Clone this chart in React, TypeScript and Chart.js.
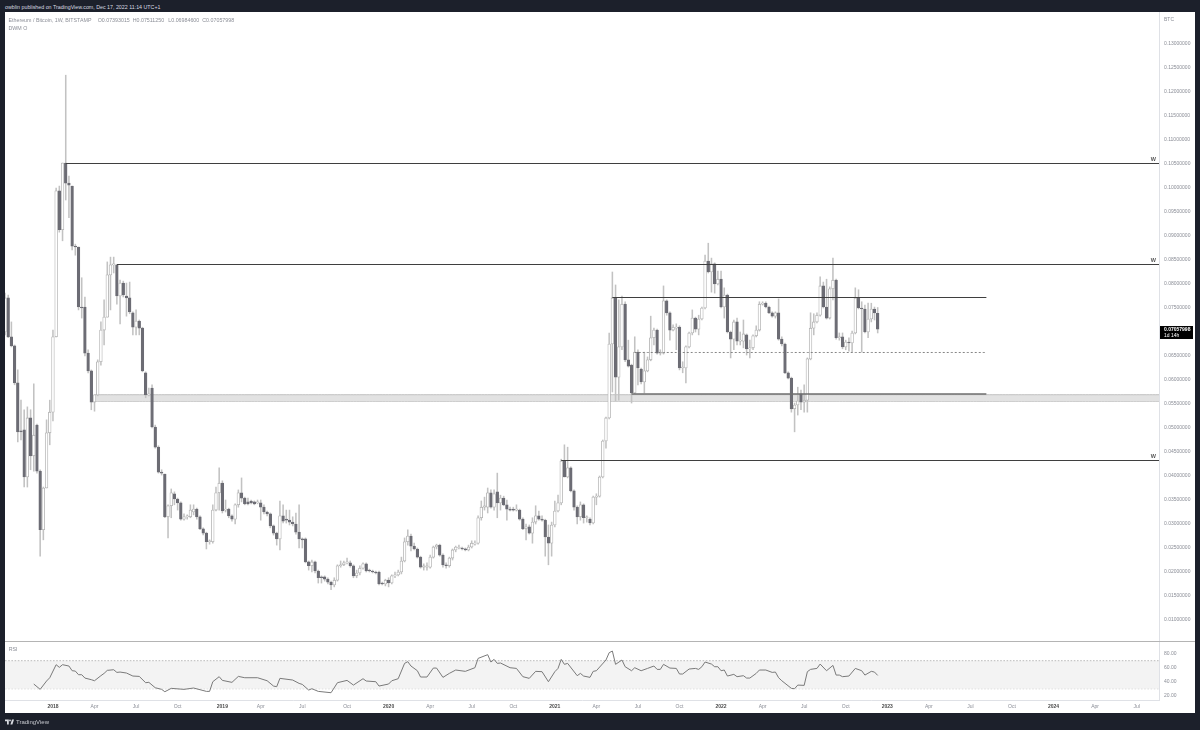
import React, { useEffect, useRef } from "react";
import { Chart, registerables } from "chart.js";

Chart.register(...registerables);

// Weekly ETH/BTC candles, in units of 0.0001 BTC, first week = 18 Sep 2017
const opens = [
  700,771,690,671,594,494,496,398,521,442,
  506,410,288,375,490,533,690,994,913,1052,
  1010,1004,879,877,752,752,656,619,554,569,
  638,704,731,819,840,840,775,802,775,771,
  740,710,723,708,615,569,583,502,460,408,
  404,315,338,363,352,344,310,315,315,325,
  331,315,290,281,263,263,329,365,385,329,
  331,317,310,340,365,354,346,348,346,344,
  344,335,325,321,296,281,269,317,310,308,
  304,300,283,269,269,221,213,221,202,190,
  190,185,179,173,183,213,215,219,219,213,
  192,198,208,217,204,202,200,200,177,175,
  183,177,192,194,200,223,263,275,254,248,
  231,210,210,210,231,252,256,235,215,213,
  229,246,250,250,248,246,252,258,260,313,
  335,335,365,335,367,344,354,340,331,331,
  329,329,310,290,294,281,304,317,310,308,
  273,260,298,327,344,431,398,417,369,335,
  315,340,313,310,302,356,358,398,473,521,
  675,771,606,669,758,642,631,573,658,623,
  596,619,642,688,704,656,656,765,740,704,
  708,710,625,625,669,698,729,706,727,750,
  848,825,842,800,810,752,777,700,685,721,
  681,681,694,665,667,692,704,758,760,752,
  740,733,740,685,675,615,604,540,548,571,
  554,558,644,708,721,735,796,752,729,790,
  808,688,690,669,679,677,698,771,750,748,
  700,727,748,739,
];
const highs = [
  781,777,721,673,621,558,538,544,538,592,
  508,413,377,517,558,704,1000,1004,1052,1235,
  1025,1004,883,877,813,773,663,621,569,642,
  721,767,846,856,856,840,808,806,802,804,
  742,746,725,710,617,583,590,506,463,413,
  404,340,373,367,354,346,321,319,340,340,
  333,317,292,283,267,340,377,417,390,350,
  333,319,342,371,396,356,354,350,348,350,
  350,340,327,323,298,283,348,340,329,329,
  315,323,340,271,271,223,225,223,204,192,
  192,188,181,188,215,223,223,229,223,215,
  204,213,219,219,206,204,202,202,179,185,
  188,194,200,204,231,271,288,279,260,250,
  233,217,219,235,254,258,258,238,219,231,
  248,254,256,252,250,256,265,265,317,348,
  356,375,371,371,406,360,358,350,335,335,
  340,331,313,300,298,313,338,327,317,310,
  298,304,348,360,435,465,460,419,371,338,
  346,342,317,313,358,363,400,475,523,698,
  825,798,767,775,763,683,633,690,663,625,
  658,648,733,708,706,663,796,767,742,715,
  717,713,638,671,700,746,731,735,752,860,
  885,854,844,827,827,792,779,702,725,729,
  700,725,696,683,694,713,763,763,763,754,
  742,742,769,690,677,617,606,552,585,579,
  590,646,740,738,740,815,804,810,794,854,
  810,698,698,683,688,702,792,788,763,756,
  760,760,752,751,
];
const lows = [
  694,688,669,590,471,475,377,377,413,410,
  406,233,267,375,465,515,690,908,890,975,
  938,871,860,746,729,650,615,538,535,567,
  631,673,731,746,823,758,717,773,733,738,
  694,694,694,617,563,567,500,458,406,402,
  313,271,313,340,329,308,308,310,313,319,
  310,288,277,248,258,260,327,329,323,325,
  313,306,300,335,346,340,340,342,340,342,
  308,321,317,292,277,256,246,302,302,298,
  296,279,250,250,219,204,200,198,177,177,
  181,175,163,169,181,210,213,217,210,188,
  188,194,206,200,200,198,196,173,173,171,
  169,175,188,192,196,221,256,244,246,229,
  208,204,204,208,229,248,233,210,208,210,
  225,242,248,246,244,244,250,256,258,308,
  329,323,333,329,313,329,338,308,327,327,
  327,308,288,267,279,260,300,308,306,233,
  215,233,294,325,340,398,396,367,329,300,
  308,302,304,298,300,340,356,396,458,519,
  575,556,558,663,638,627,552,571,590,592,
  573,617,640,673,654,652,654,735,683,702,
  663,621,615,594,667,694,700,694,725,748,
  823,783,781,798,750,729,698,646,663,673,
  673,667,652,646,663,690,702,756,750,738,
  731,729,683,671,613,602,533,492,527,538,
  533,533,642,694,719,733,750,727,727,767,
  685,683,665,663,660,658,696,748,658,698,
  688,721,725,698,
];
const closes = [
  771,690,671,594,492,492,398,521,442,485,
  410,288,375,490,533,690,994,913,1052,1010,
  1006,879,877,752,750,656,619,554,569,638,
  704,731,819,840,842,775,802,777,771,742,
  710,723,708,619,569,571,502,460,408,406,
  315,338,365,352,344,310,315,317,329,331,
  315,290,281,263,265,329,365,385,327,331,
  317,310,340,365,354,342,342,344,342,346,
  335,325,321,296,281,269,317,306,308,304,
  300,283,269,267,221,213,221,202,188,188,
  185,179,173,183,213,215,219,221,213,192,
  198,208,217,202,202,200,198,175,175,183,
  177,192,194,200,223,263,275,254,248,231,
  210,213,213,231,252,256,235,215,213,229,
  246,252,252,248,246,252,260,260,313,335,
  338,365,335,363,344,354,340,331,329,329,
  331,310,290,294,281,304,317,310,308,273,
  260,298,327,344,431,398,417,369,335,315,
  340,313,315,302,356,358,398,473,521,675,
  771,606,669,758,642,629,573,658,625,596,
  619,642,688,704,656,658,765,740,704,710,
  710,625,627,669,698,729,706,727,750,848,
  825,842,800,810,752,777,700,685,721,681,
  683,696,665,667,692,704,758,760,752,740,
  733,740,685,675,615,604,540,548,556,554,
  558,644,708,721,735,796,752,729,790,808,
  688,690,669,679,677,698,771,750,748,700,
  727,748,740,706,
];

// RSI readings: week number and value
const rsiWeeks = [
  9,11,13,14,16,17,18,20,21,22,23,24,25,27,28,30,31,32,34,35,36,38,40,42,44,45,47,49,50,52,56,59,63,64,65,67,68,71,73,75,79,82,84,85,86,90,92,93,95,96,98,102,104,107,109,112,113,116,117,120,121,123,125,126,127,129,130,132,134,135,137,139,
  141,144,147,148,151,152,153,154,155,158,160,162,164,166,168,170,172,173,174,175,176,179,180,181,183,184,185,188,189,190,191,193,194,196,197,199,201,203,204,205,206,208,210,211,212,214,216,217,218,219,221,222,223,224,225,226,228,229,231,232,233,235,236,238,240,241,242,243,246,247,248,250,251,252,254,255,257,259,260,261,262,264,266,268,269,271,272,273,
];
const rsiValues = [
  36.7,29.1,41,45.7,64.3,60.5,64.3,62.4,55.7,55.2,50,50,45.2,42.9,41.4,48.6,51.9,56.2,57.1,53.3,53.8,52.4,48.1,47.6,38.6,39.1,31.4,29.1,25.7,30.5,29.1,31,26.2,26.2,40,47.2,41.9,39.1,47.6,45.7,45.7,41.4,33.8,32.9,44.8,42.4,37.6,36.2,28.1,30,26.2,24.3,38.6,41.9,35.2,44.3,41,40,33.8,36.7,41.4,44.3,66.2,68.6,62.4,55.7,46.7,46.7,59.5,59.5,46.2,51.9,
  56.7,54.8,60,73.3,78.6,68.1,71.9,66.2,66.7,60,59,47.2,44.8,54.8,54.3,40,54.3,59,71.9,64.8,66.2,48.6,51.9,48.1,46.2,54.8,55.7,71,81.4,83.8,64.8,71,61.4,55.7,60,55.7,59,62.4,57.6,57.6,64.8,59.5,59,51,51,58.1,59,57.6,61.4,68.1,65.2,61.4,61.4,55.7,56.7,48.1,50.5,47.2,48.6,45.2,45.2,51.9,56.7,56.7,53.3,53.8,45.7,41.4,30.5,30,35.2,34.8,54.3,57.6,59,65.2,55.7,63.3,49.5,49.5,47.2,48.1,59,55.7,49.5,54.8,53.8,49,
];

// Drawn levels in BTC: price and first / last week
const levelPrices = [0.1051, 0.08406, 0.07719, 0.05708, 0.04323];
const levelStarts = [19, 35, 190, 196, 174];
const levelEnds = [361, 361, 307, 307, 361];
const levelTagged = [true, true, false, false, true];
const dashedLevelPrice = 0.06573;
const dashedLevelStart = 197;
const dashedLevelEnd = 307;
const zoneHigh = 0.05694;
const zoneLow = 0.05556;
const zoneStart = 28;

const priceTicks = [
  0.01,0.015,0.02,0.025,0.03,0.035,0.04,0.045,0.05,0.055,0.06,0.065,0.07,
  0.075,0.08,0.085,0.09,0.095,0.1,0.105,0.11,0.115,0.12,0.125,0.13,
];
const rsiTicks = [20, 40, 60, 80];
const rsiLevels = [70, 50, 30];

const lastPrice = 0.07057998;
const FONT = '"Liberation Sans", Arial, sans-serif';
const MONTHS = ["Jan", "Apr", "Jul", "Oct"];
const FIRST_WEEK = Date.UTC(2017, 8, 18);
const FIRST_AXIS_YEAR = 2018;
const SLOTS = 362;
const WEEK = 7 * 24 * 3600 * 1000;

const weekDates = Array.from({ length: SLOTS }, (_, i) => new Date(FIRST_WEEK + i * WEEK));
const weekNames = weekDates.map((d) => d.toISOString().slice(0, 10));
const axisLabels = weekDates.map((d, i) => {
  if (i === 0 || d.getUTCFullYear() < FIRST_AXIS_YEAR) return "";
  const prev = weekDates[i - 1];
  const m = d.getUTCMonth();
  if (m === prev.getUTCMonth() || m % 3 !== 0) return "";
  return m === 0 ? String(d.getUTCFullYear()) : MONTHS[m / 3];
});

const UP = "#ffffff";
const UP_EDGE = "#b0b0b0";
const DOWN = "#6c6c74";
const WICK = "#c2c2c2";

const levelSeries = (price: number, start: number, end: number) =>
  weekNames.map((_, i) => (i >= start && i <= end ? price : null));

const noPadding = (s: any) => {
  s.paddingTop = 0;
  s.paddingBottom = 0;
  s.paddingLeft = 0;
  s.paddingRight = 0;
};

const mainTags = {
  id: "mainTags",
  afterDraw(chart: any) {
    const { ctx, scales, chartArea } = chart;
    ctx.save();
    ctx.textBaseline = "middle";
    ctx.font = `bold 5.5px ${FONT}`;
    ctx.fillStyle = "#555555";
    ctx.textAlign = "right";
    levelPrices.forEach((p, i) => {
      if (levelTagged[i]) ctx.fillText("W", chartArea.right - 3, scales.y.getPixelForValue(p) - 4.5);
    });
    const y = scales.y.getPixelForValue(lastPrice);
    ctx.fillStyle = "#000000";
    ctx.fillRect(chartArea.right + 1, y - 3.2, 33, 13);
    ctx.fillStyle = "#ffffff";
    ctx.textAlign = "left";
    ctx.font = `bold 5px ${FONT}`;
    ctx.fillText(lastPrice.toFixed(8), chartArea.right + 5, y + 0.4);
    ctx.font = `5px ${FONT}`;
    ctx.fillText("1d 14h", chartArea.right + 5, y + 6);
    ctx.restore();
  },
};

const label = (text: string, x: number, y: number, color = "#8a8d96", size = 5.3, extra: any = {}) => (
  <div
    style={{
      position: "absolute",
      left: x,
      top: y,
      lineHeight: "8px",
      height: 8,
      whiteSpace: "nowrap",
      fontFamily: FONT,
      fontSize: size,
      color,
      ...extra,
    }}
  >
    {text}
  </div>
);

export default function App() {
  const mainRef = useRef<HTMLCanvasElement>(null);
  const rsiRef = useRef<HTMLCanvasElement>(null);

  useEffect(() => {
    const isUp = opens.map((o, i) => closes[i] >= o);
    const scaleDown = (v: number) => v / 10000;
    const levelSets: any[] = levelPrices.map((p, i) => ({
      type: "line",
      data: levelSeries(p, levelStarts[i], levelEnds[i]),
      borderColor: i === 3 ? "#6e6e6e" : "#3f3f3f",
      borderWidth: i === 3 ? 1.6 : 1.1,
      pointRadius: 0,
      order: 1,
    }));
    const main = new Chart(mainRef.current as any, {
      type: "bar",
      data: {
        labels: weekNames,
        datasets: [
          {
            type: "line",
            data: levelSeries(zoneHigh, zoneStart, SLOTS - 1),
            borderColor: "#b4b4b4",
            borderWidth: 0.8,
            backgroundColor: "#e2e2e2",
            fill: { target: { value: zoneLow } },
            pointRadius: 0,
            order: 6,
          },
          {
            type: "line",
            data: levelSeries(zoneLow, zoneStart, SLOTS - 1),
            borderColor: "#a8a8a8",
            borderWidth: 0.8,
            pointRadius: 0,
            order: 6,
          },
          {
            data: highs.map((h, i) => [scaleDown(lows[i]), scaleDown(h)]),
            backgroundColor: WICK,
            barThickness: 0.9,
            grouped: false,
            order: 4,
          },
          {
            data: opens.map((o, i) => [scaleDown(o), scaleDown(closes[i])]),
            backgroundColor: isUp.map((u) => (u ? UP : DOWN)),
            borderColor: isUp.map((u) => (u ? UP_EDGE : DOWN)),
            borderWidth: 0.8,
            borderSkipped: false,
            barThickness: 2.7,
            minBarLength: 1,
            grouped: false,
            order: 3,
          },
          ...levelSets,
          {
            type: "line",
            data: levelSeries(dashedLevelPrice, dashedLevelStart, dashedLevelEnd),
            borderColor: "#777777",
            borderWidth: 0.9,
            borderDash: [2, 2],
            pointRadius: 0,
            order: 2,
          },
        ],
      } as any,
      options: {
        responsive: false,
        animation: false,
        events: [],
        layout: { padding: 0 },
        plugins: { legend: { display: false }, tooltip: { enabled: false } },
        scales: {
          x: { type: "category", display: false, offset: false, grid: { display: false } },
          y: {
            position: "right",
            min: 0.005625,
            max: 0.136667,
            grid: { display: false, drawTicks: false },
            border: { display: true, color: "#dfe1e6", width: 1 },
            afterFit: (s: any) => {
              s.width = 36;
              noPadding(s);
            },
            afterBuildTicks: (s: any) => {
              s.ticks = priceTicks.map((value) => ({ value }));
            },
            ticks: {
              padding: 5,
              color: "#8a8d96",
              font: { size: 5, family: FONT },
              autoSkip: false,
              callback: (v: any) => Number(v).toFixed(8),
            },
          },
        },
      } as any,
      plugins: [mainTags],
    });

    const rsiSeries: (number | null)[] = weekNames.map(() => null);
    rsiWeeks.forEach((w, i) => {
      rsiSeries[w] = rsiValues[i];
    });
    const rsi = new Chart(rsiRef.current as any, {
      type: "line",
      data: {
        labels: weekNames,
        datasets: [
          {
            data: rsiSeries,
            borderColor: "#7a7a7a",
            borderWidth: 1,
            spanGaps: true,
            pointRadius: 0,
            tension: 0,
            order: 1,
          },
          ...rsiLevels.map((lv, i) => ({
            data: weekNames.map(() => lv),
            borderColor: "#bcbcbc",
            borderWidth: 1,
            borderDash: [1.6, 1.6],
            pointRadius: 0,
            order: 2,
            backgroundColor: "#f3f3f3",
            fill: i === 0 ? { target: { value: rsiLevels[2] } } : false,
          })),
        ],
      } as any,
      options: {
        responsive: false,
        animation: false,
        events: [],
        layout: { padding: 0 },
        plugins: { legend: { display: false }, tooltip: { enabled: false } },
        scales: {
          x: {
            type: "category",
            offset: false,
            grid: { display: false, drawTicks: false },
            border: { display: true, color: "#dfe1e6", width: 1 },
            afterFit: (s: any) => {
              s.height = 13;
              noPadding(s);
            },
            ticks: {
              autoSkip: false,
              maxRotation: 0,
              padding: 4,
              color: (c: any) => (/^\d/.test(c.tick?.label ?? "") ? "#4a4a4a" : "#8a8d96"),
              font: (c: any) => ({
                size: 5,
                family: FONT,
                weight: /^\d/.test(c.tick?.label ?? "") ? "bold" : "normal",
              }),
              callback: (_v: any, i: number) => axisLabels[i],
            },
          },
          y: {
            position: "right",
            min: 13.9,
            max: 96.7,
            grid: { display: false, drawTicks: false },
            border: { display: true, color: "#dfe1e6", width: 1 },
            afterFit: (s: any) => {
              s.width = 36;
              noPadding(s);
            },
            afterBuildTicks: (s: any) => {
              s.ticks = rsiTicks.map((value) => ({ value }));
            },
            ticks: {
              padding: 5,
              color: "#8a8d96",
              font: { size: 5, family: FONT },
              callback: (v: any) => Number(v).toFixed(2),
            },
          },
        },
      } as any,
    });
    return () => {
      main.destroy();
      rsi.destroy();
    };
  }, []);

  return (
    <div style={{ position: "absolute", left: 0, top: 0, width: 1200, height: 730, background: "#1c202b", overflow: "hidden" }}>
      {label("owblin published on TradingView.com, Dec 17, 2022 11:14 UTC+1", 5, 3, "#d8dae0", 5.3)}
      <div style={{ position: "absolute", left: 5, top: 12, width: 1190, height: 701, background: "#ffffff" }} />
      <canvas ref={mainRef} width={1190} height={629} style={{ position: "absolute", left: 5, top: 12, display: "block" }} />
      <canvas ref={rsiRef} width={1190} height={71} style={{ position: "absolute", left: 5, top: 642, display: "block" }} />
      <div style={{ position: "absolute", left: 5, top: 641, width: 1190, height: 1, background: "#b4b4b4" }} />
      {label("Ethereum / Bitcoin, 1W, BITSTAMP", 8.5, 16)}
      {label("O0.07393015", 97.7, 16)}
      {label("H0.07511250", 132.7, 16)}
      {label("L0.06984600", 168.3, 16)}
      {label("C0.07057998", 202.3, 16)}
      {label("DWM O", 8.5, 23.5)}
      {label("BTC", 1164, 14.5, "#8a8d96", 5)}
      {label("RSI", 8.7, 645)}
      <svg width="9" height="6" viewBox="0 0 9 6" style={{ position: "absolute", left: 5, top: 719 }}>
        <path d="M0 0.5H3.8V5.5H2V2.2H0Z M5.4 5.5L7 0.5H9L7.4 5.5Z" fill="#d8dae0" />
        <circle cx="5" cy="1.4" r="0.9" fill="#d8dae0" />
      </svg>
      {label("TradingView", 16, 718, "#c8cad0", 6)}
    </div>
  );
}
